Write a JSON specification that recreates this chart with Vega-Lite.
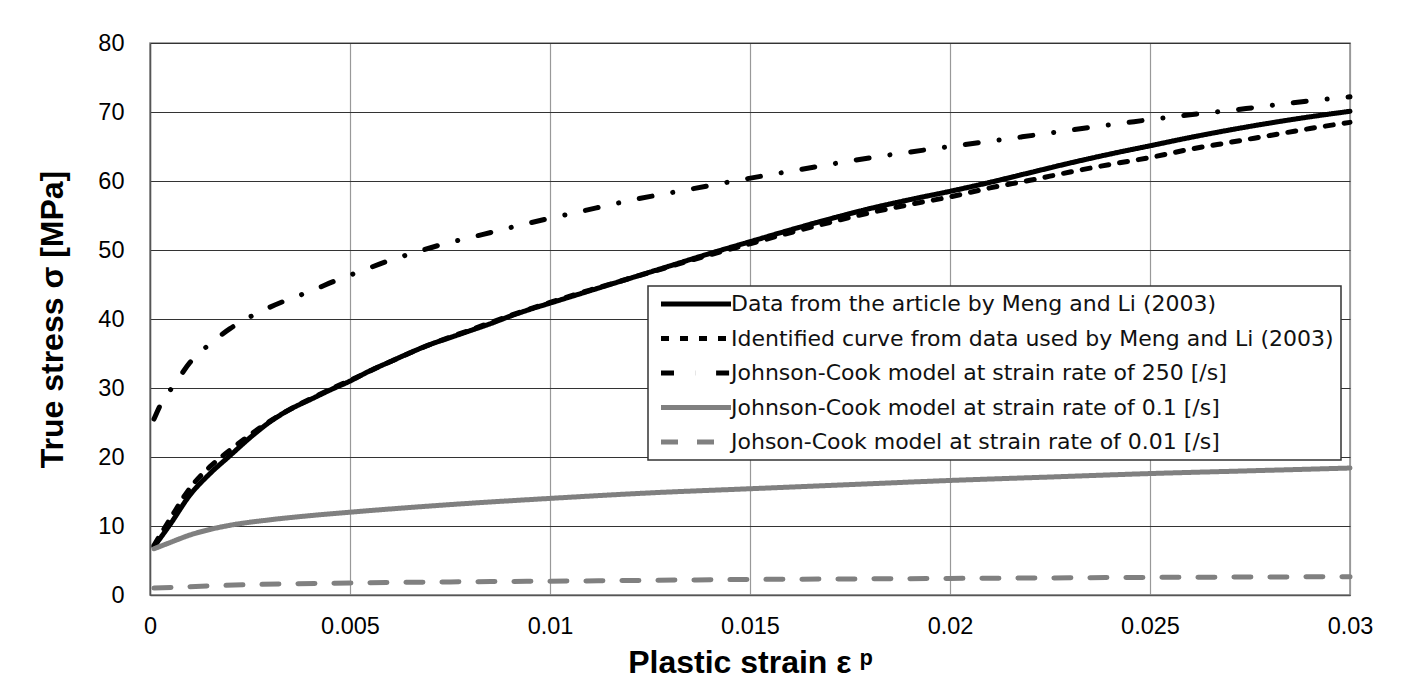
{
  "$schema": "https://vega.github.io/schema/vega-lite/v6.json",
  "width": 1200,
  "height": 552,
  "autosize": {"type": "none"},
  "padding": {"left": 150, "top": 43, "right": 54, "bottom": 104},
  "background": "white",
  "config": {
    "view": {"stroke": "#888888", "strokeWidth": 1.5},
    "font": "Liberation Sans",
    "axis": {
      "labelFont": "Liberation Sans",
      "labelFontSize": 23.5,
      "labelColor": "#000000",
      "titleFont": "Liberation Sans",
      "titleFontWeight": "bold",
      "titleFontSize": 32,
      "titleColor": "#000000",
      "ticks": false,
      "tickSize": 0,
      "domainColor": "#555555",
      "domainWidth": 1.5
    },
    "legend": {
      "orient": "none",
      "legendX": 498,
      "legendY": 243,
      "padding": 7,
      "fillColor": "white",
      "strokeColor": "#333333",
      "strokeWidth": 1.5,
      "labelFont": "DejaVu Sans",
      "labelFontSize": 22,
      "labelColor": "#111111",
      "labelLimit": 800,
      "labelOffset": 54,
      "rowPadding": 12.5,
      "symbolType": "M-1,0H13",
      "symbolSize": 100,
      "symbolStrokeWidth": 5
    }
  },
  "data": {
    "values": [
      {"strain": 0.0001, "stress": 7.0, "series": "Data from the article by Meng and Li (2003)"},
      {"strain": 0.0005, "stress": 10.2, "series": "Data from the article by Meng and Li (2003)"},
      {"strain": 0.001, "stress": 14.5, "series": "Data from the article by Meng and Li (2003)"},
      {"strain": 0.0015, "stress": 17.6, "series": "Data from the article by Meng and Li (2003)"},
      {"strain": 0.002, "stress": 20.2, "series": "Data from the article by Meng and Li (2003)"},
      {"strain": 0.0025, "stress": 22.8, "series": "Data from the article by Meng and Li (2003)"},
      {"strain": 0.003, "stress": 25.1, "series": "Data from the article by Meng and Li (2003)"},
      {"strain": 0.0035, "stress": 26.9, "series": "Data from the article by Meng and Li (2003)"},
      {"strain": 0.004, "stress": 28.3, "series": "Data from the article by Meng and Li (2003)"},
      {"strain": 0.0045, "stress": 29.7, "series": "Data from the article by Meng and Li (2003)"},
      {"strain": 0.005, "stress": 31.0, "series": "Data from the article by Meng and Li (2003)"},
      {"strain": 0.0055, "stress": 32.5, "series": "Data from the article by Meng and Li (2003)"},
      {"strain": 0.006, "stress": 33.8, "series": "Data from the article by Meng and Li (2003)"},
      {"strain": 0.0065, "stress": 35.1, "series": "Data from the article by Meng and Li (2003)"},
      {"strain": 0.007, "stress": 36.3, "series": "Data from the article by Meng and Li (2003)"},
      {"strain": 0.0075, "stress": 37.3, "series": "Data from the article by Meng and Li (2003)"},
      {"strain": 0.008, "stress": 38.3, "series": "Data from the article by Meng and Li (2003)"},
      {"strain": 0.0085, "stress": 39.3, "series": "Data from the article by Meng and Li (2003)"},
      {"strain": 0.009, "stress": 40.4, "series": "Data from the article by Meng and Li (2003)"},
      {"strain": 0.0095, "stress": 41.4, "series": "Data from the article by Meng and Li (2003)"},
      {"strain": 0.01, "stress": 42.3, "series": "Data from the article by Meng and Li (2003)"},
      {"strain": 0.011, "stress": 44.1, "series": "Data from the article by Meng and Li (2003)"},
      {"strain": 0.012, "stress": 45.9, "series": "Data from the article by Meng and Li (2003)"},
      {"strain": 0.013, "stress": 47.7, "series": "Data from the article by Meng and Li (2003)"},
      {"strain": 0.014, "stress": 49.5, "series": "Data from the article by Meng and Li (2003)"},
      {"strain": 0.015, "stress": 51.2, "series": "Data from the article by Meng and Li (2003)"},
      {"strain": 0.016, "stress": 52.9, "series": "Data from the article by Meng and Li (2003)"},
      {"strain": 0.017, "stress": 54.5, "series": "Data from the article by Meng and Li (2003)"},
      {"strain": 0.018, "stress": 56.0, "series": "Data from the article by Meng and Li (2003)"},
      {"strain": 0.019, "stress": 57.3, "series": "Data from the article by Meng and Li (2003)"},
      {"strain": 0.02, "stress": 58.5, "series": "Data from the article by Meng and Li (2003)"},
      {"strain": 0.021, "stress": 59.8, "series": "Data from the article by Meng and Li (2003)"},
      {"strain": 0.022, "stress": 61.2, "series": "Data from the article by Meng and Li (2003)"},
      {"strain": 0.023, "stress": 62.6, "series": "Data from the article by Meng and Li (2003)"},
      {"strain": 0.024, "stress": 63.9, "series": "Data from the article by Meng and Li (2003)"},
      {"strain": 0.025, "stress": 65.1, "series": "Data from the article by Meng and Li (2003)"},
      {"strain": 0.026, "stress": 66.3, "series": "Data from the article by Meng and Li (2003)"},
      {"strain": 0.027, "stress": 67.4, "series": "Data from the article by Meng and Li (2003)"},
      {"strain": 0.028, "stress": 68.4, "series": "Data from the article by Meng and Li (2003)"},
      {"strain": 0.029, "stress": 69.3, "series": "Data from the article by Meng and Li (2003)"},
      {"strain": 0.03, "stress": 70.1, "series": "Data from the article by Meng and Li (2003)"},

      {"strain": 0.0001, "stress": 7.2, "series": "Identified curve from data used by Meng and Li (2003)"},
      {"strain": 0.0005, "stress": 11.0, "series": "Identified curve from data used by Meng and Li (2003)"},
      {"strain": 0.001, "stress": 15.5, "series": "Identified curve from data used by Meng and Li (2003)"},
      {"strain": 0.0015, "stress": 18.6, "series": "Identified curve from data used by Meng and Li (2003)"},
      {"strain": 0.002, "stress": 21.0, "series": "Identified curve from data used by Meng and Li (2003)"},
      {"strain": 0.0025, "stress": 23.2, "series": "Identified curve from data used by Meng and Li (2003)"},
      {"strain": 0.003, "stress": 25.2, "series": "Identified curve from data used by Meng and Li (2003)"},
      {"strain": 0.0035, "stress": 26.9, "series": "Identified curve from data used by Meng and Li (2003)"},
      {"strain": 0.004, "stress": 28.4, "series": "Identified curve from data used by Meng and Li (2003)"},
      {"strain": 0.0045, "stress": 29.8, "series": "Identified curve from data used by Meng and Li (2003)"},
      {"strain": 0.005, "stress": 31.1, "series": "Identified curve from data used by Meng and Li (2003)"},
      {"strain": 0.006, "stress": 33.8, "series": "Identified curve from data used by Meng and Li (2003)"},
      {"strain": 0.007, "stress": 36.3, "series": "Identified curve from data used by Meng and Li (2003)"},
      {"strain": 0.008, "stress": 38.4, "series": "Identified curve from data used by Meng and Li (2003)"},
      {"strain": 0.009, "stress": 40.5, "series": "Identified curve from data used by Meng and Li (2003)"},
      {"strain": 0.01, "stress": 42.4, "series": "Identified curve from data used by Meng and Li (2003)"},
      {"strain": 0.011, "stress": 44.2, "series": "Identified curve from data used by Meng and Li (2003)"},
      {"strain": 0.012, "stress": 45.9, "series": "Identified curve from data used by Meng and Li (2003)"},
      {"strain": 0.013, "stress": 47.6, "series": "Identified curve from data used by Meng and Li (2003)"},
      {"strain": 0.014, "stress": 49.3, "series": "Identified curve from data used by Meng and Li (2003)"},
      {"strain": 0.015, "stress": 50.9, "series": "Identified curve from data used by Meng and Li (2003)"},
      {"strain": 0.016, "stress": 52.5, "series": "Identified curve from data used by Meng and Li (2003)"},
      {"strain": 0.017, "stress": 54.0, "series": "Identified curve from data used by Meng and Li (2003)"},
      {"strain": 0.018, "stress": 55.4, "series": "Identified curve from data used by Meng and Li (2003)"},
      {"strain": 0.019, "stress": 56.6, "series": "Identified curve from data used by Meng and Li (2003)"},
      {"strain": 0.02, "stress": 57.7, "series": "Identified curve from data used by Meng and Li (2003)"},
      {"strain": 0.021, "stress": 59.0, "series": "Identified curve from data used by Meng and Li (2003)"},
      {"strain": 0.022, "stress": 60.1, "series": "Identified curve from data used by Meng and Li (2003)"},
      {"strain": 0.023, "stress": 61.3, "series": "Identified curve from data used by Meng and Li (2003)"},
      {"strain": 0.024, "stress": 62.4, "series": "Identified curve from data used by Meng and Li (2003)"},
      {"strain": 0.025, "stress": 63.4, "series": "Identified curve from data used by Meng and Li (2003)"},
      {"strain": 0.026, "stress": 64.6, "series": "Identified curve from data used by Meng and Li (2003)"},
      {"strain": 0.027, "stress": 65.6, "series": "Identified curve from data used by Meng and Li (2003)"},
      {"strain": 0.028, "stress": 66.6, "series": "Identified curve from data used by Meng and Li (2003)"},
      {"strain": 0.029, "stress": 67.6, "series": "Identified curve from data used by Meng and Li (2003)"},
      {"strain": 0.03, "stress": 68.5, "series": "Identified curve from data used by Meng and Li (2003)"},

      {"strain": 0.0001, "stress": 25.5, "series": "Johnson-Cook model at strain rate of 250 [/s]"},
      {"strain": 0.0003, "stress": 28.0, "series": "Johnson-Cook model at strain rate of 250 [/s]"},
      {"strain": 0.0006, "stress": 30.4, "series": "Johnson-Cook model at strain rate of 250 [/s]"},
      {"strain": 0.001, "stress": 33.7, "series": "Johnson-Cook model at strain rate of 250 [/s]"},
      {"strain": 0.0015, "stress": 36.4, "series": "Johnson-Cook model at strain rate of 250 [/s]"},
      {"strain": 0.002, "stress": 38.6, "series": "Johnson-Cook model at strain rate of 250 [/s]"},
      {"strain": 0.0027, "stress": 40.9, "series": "Johnson-Cook model at strain rate of 250 [/s]"},
      {"strain": 0.0034, "stress": 42.7, "series": "Johnson-Cook model at strain rate of 250 [/s]"},
      {"strain": 0.004, "stress": 44.0, "series": "Johnson-Cook model at strain rate of 250 [/s]"},
      {"strain": 0.0047, "stress": 45.7, "series": "Johnson-Cook model at strain rate of 250 [/s]"},
      {"strain": 0.0053, "stress": 47.0, "series": "Johnson-Cook model at strain rate of 250 [/s]"},
      {"strain": 0.006, "stress": 48.5, "series": "Johnson-Cook model at strain rate of 250 [/s]"},
      {"strain": 0.0066, "stress": 49.6, "series": "Johnson-Cook model at strain rate of 250 [/s]"},
      {"strain": 0.0073, "stress": 50.8, "series": "Johnson-Cook model at strain rate of 250 [/s]"},
      {"strain": 0.008, "stress": 51.8, "series": "Johnson-Cook model at strain rate of 250 [/s]"},
      {"strain": 0.0087, "stress": 52.8, "series": "Johnson-Cook model at strain rate of 250 [/s]"},
      {"strain": 0.0094, "stress": 53.8, "series": "Johnson-Cook model at strain rate of 250 [/s]"},
      {"strain": 0.01, "stress": 54.6, "series": "Johnson-Cook model at strain rate of 250 [/s]"},
      {"strain": 0.0107, "stress": 55.5, "series": "Johnson-Cook model at strain rate of 250 [/s]"},
      {"strain": 0.0121, "stress": 57.3, "series": "Johnson-Cook model at strain rate of 250 [/s]"},
      {"strain": 0.0135, "stress": 58.8, "series": "Johnson-Cook model at strain rate of 250 [/s]"},
      {"strain": 0.0149, "stress": 60.3, "series": "Johnson-Cook model at strain rate of 250 [/s]"},
      {"strain": 0.0163, "stress": 61.7, "series": "Johnson-Cook model at strain rate of 250 [/s]"},
      {"strain": 0.0176, "stress": 63.0, "series": "Johnson-Cook model at strain rate of 250 [/s]"},
      {"strain": 0.019, "stress": 64.2, "series": "Johnson-Cook model at strain rate of 250 [/s]"},
      {"strain": 0.02, "stress": 65.0, "series": "Johnson-Cook model at strain rate of 250 [/s]"},
      {"strain": 0.0218, "stress": 66.4, "series": "Johnson-Cook model at strain rate of 250 [/s]"},
      {"strain": 0.0233, "stress": 67.6, "series": "Johnson-Cook model at strain rate of 250 [/s]"},
      {"strain": 0.0246, "stress": 68.6, "series": "Johnson-Cook model at strain rate of 250 [/s]"},
      {"strain": 0.026, "stress": 69.6, "series": "Johnson-Cook model at strain rate of 250 [/s]"},
      {"strain": 0.0274, "stress": 70.5, "series": "Johnson-Cook model at strain rate of 250 [/s]"},
      {"strain": 0.0288, "stress": 71.5, "series": "Johnson-Cook model at strain rate of 250 [/s]"},
      {"strain": 0.03, "stress": 72.2, "series": "Johnson-Cook model at strain rate of 250 [/s]"},

      {"strain": 0.0001, "stress": 6.7, "series": "Johnson-Cook model at strain rate of 0.1 [/s]"},
      {"strain": 0.0005, "stress": 7.6, "series": "Johnson-Cook model at strain rate of 0.1 [/s]"},
      {"strain": 0.001, "stress": 8.7, "series": "Johnson-Cook model at strain rate of 0.1 [/s]"},
      {"strain": 0.0015, "stress": 9.5, "series": "Johnson-Cook model at strain rate of 0.1 [/s]"},
      {"strain": 0.002, "stress": 10.1, "series": "Johnson-Cook model at strain rate of 0.1 [/s]"},
      {"strain": 0.003, "stress": 10.9, "series": "Johnson-Cook model at strain rate of 0.1 [/s]"},
      {"strain": 0.004, "stress": 11.5, "series": "Johnson-Cook model at strain rate of 0.1 [/s]"},
      {"strain": 0.005, "stress": 12.0, "series": "Johnson-Cook model at strain rate of 0.1 [/s]"},
      {"strain": 0.0075, "stress": 13.1, "series": "Johnson-Cook model at strain rate of 0.1 [/s]"},
      {"strain": 0.01, "stress": 14.0, "series": "Johnson-Cook model at strain rate of 0.1 [/s]"},
      {"strain": 0.0125, "stress": 14.8, "series": "Johnson-Cook model at strain rate of 0.1 [/s]"},
      {"strain": 0.015, "stress": 15.4, "series": "Johnson-Cook model at strain rate of 0.1 [/s]"},
      {"strain": 0.0175, "stress": 16.0, "series": "Johnson-Cook model at strain rate of 0.1 [/s]"},
      {"strain": 0.02, "stress": 16.6, "series": "Johnson-Cook model at strain rate of 0.1 [/s]"},
      {"strain": 0.0225, "stress": 17.1, "series": "Johnson-Cook model at strain rate of 0.1 [/s]"},
      {"strain": 0.025, "stress": 17.6, "series": "Johnson-Cook model at strain rate of 0.1 [/s]"},
      {"strain": 0.0275, "stress": 18.0, "series": "Johnson-Cook model at strain rate of 0.1 [/s]"},
      {"strain": 0.03, "stress": 18.4, "series": "Johnson-Cook model at strain rate of 0.1 [/s]"},

      {"strain": 0.0001, "stress": 1.0, "series": "Johson-Cook model at strain rate of 0.01 [/s]"},
      {"strain": 0.0025, "stress": 1.5, "series": "Johson-Cook model at strain rate of 0.01 [/s]"},
      {"strain": 0.005, "stress": 1.75, "series": "Johson-Cook model at strain rate of 0.01 [/s]"},
      {"strain": 0.0075, "stress": 1.9, "series": "Johson-Cook model at strain rate of 0.01 [/s]"},
      {"strain": 0.01, "stress": 2.0, "series": "Johson-Cook model at strain rate of 0.01 [/s]"},
      {"strain": 0.015, "stress": 2.25, "series": "Johson-Cook model at strain rate of 0.01 [/s]"},
      {"strain": 0.02, "stress": 2.4, "series": "Johson-Cook model at strain rate of 0.01 [/s]"},
      {"strain": 0.025, "stress": 2.55, "series": "Johson-Cook model at strain rate of 0.01 [/s]"},
      {"strain": 0.03, "stress": 2.65, "series": "Johson-Cook model at strain rate of 0.01 [/s]"}
    ]
  },
  "mark": {"type": "line", "strokeWidth": 5, "strokeCap": "round", "strokeJoin": "round", "interpolate": "monotone"},
  "encoding": {
    "x": {
      "field": "strain",
      "type": "quantitative",
      "scale": {"domain": [0, 0.03], "nice": false, "zero": false},
      "axis": {
        "title": "Plastic strain  ε ᵖ",
        "values": [0, 0.005, 0.01, 0.015, 0.02, 0.025, 0.03],
        "format": "~g",
        "labelPadding": 19,
        "titlePadding": 10,
        "gridColor": "#999999",
        "gridWidth": 1.2,
        "labelFlush": false
      }
    },
    "y": {
      "field": "stress",
      "type": "quantitative",
      "scale": {"domain": [0, 80], "nice": false},
      "axis": {
        "title": "True stress σ  [MPa]",
        "values": [0, 10, 20, 30, 40, 50, 60, 70, 80],
        "labelPadding": 26,
        "titlePadding": 28,
        "gridColor": "#333333",
        "gridWidth": 1.2,
        "labelFlush": false
      }
    },
    "color": {
      "field": "series",
      "type": "nominal",
      "title": null,
      "scale": {
        "domain": [
          "Data from the article by Meng and Li (2003)",
          "Identified curve from data used by Meng and Li (2003)",
          "Johnson-Cook model at strain rate of 250 [/s]",
          "Johnson-Cook model at strain rate of 0.1 [/s]",
          "Johson-Cook model at strain rate of 0.01 [/s]"
        ],
        "range": ["#000000", "#000000", "#000000", "#808080", "#808080"]
      }
    },
    "strokeDash": {
      "field": "series",
      "type": "nominal",
      "title": null,
      "scale": {
        "domain": [
          "Data from the article by Meng and Li (2003)",
          "Identified curve from data used by Meng and Li (2003)",
          "Johnson-Cook model at strain rate of 250 [/s]",
          "Johnson-Cook model at strain rate of 0.1 [/s]",
          "Johson-Cook model at strain rate of 0.01 [/s]"
        ],
        "range": [[1, 0], [8, 11], [13, 21, 0.1, 21], [1, 0], [17, 19]]
      }
    }
  }
}
